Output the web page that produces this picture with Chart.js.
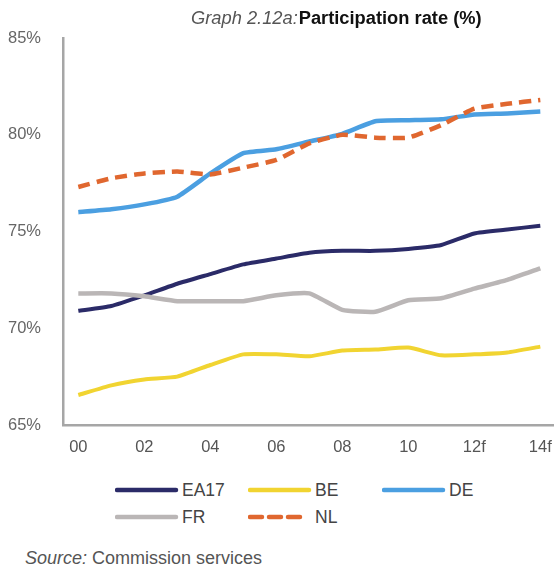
<!DOCTYPE html>
<html>
<head>
<meta charset="utf-8">
<script src="https://cdn.jsdelivr.net/npm/chart.js@4.4.1/dist/chart.umd.min.js"></script>
<style>
  html, body { margin: 0; padding: 0; background: #fff; }
  #wrap { position: relative; width: 554px; height: 570px; overflow: hidden; background: #fff;
          font-family: "Liberation Sans", Arial, sans-serif; }
  #c { position: absolute; left: 0; top: 0; }
  #title { position: absolute; left: 191px; top: 7px; white-space: nowrap; font-size: 18.3px; line-height: 22px; color: #111; }
  #title .it { font-style: italic; color: #555; }
  #title .b { font-weight: bold; margin-left: 1px; }
  .leg { position: absolute; height: 22px; white-space: nowrap; font-size: 17.5px; line-height: 22px; color: #444; }
  .leg svg { position: absolute; left: 0; top: 0; }
  .leg span { position: absolute; top: 0; }
  #source { position: absolute; left: 25px; top: 547px; font-size: 18px; line-height: 22px; color: #555; white-space: nowrap; }
  #source i { font-style: italic; }
</style>
</head>
<body>
<div id="wrap">
  <canvas id="c" width="554" height="460"></canvas>
  <div id="title"><span class="it">Graph 2.12a:</span><span class="b">Participation rate (%)</span></div>
  <div id="legend"></div>
  <div id="source"><i>Source:</i> Commission services</div>
</div>
<script>
// ---- data ----
const categories = ['00','01','02','03','04','05','06','07','08','09','10','11','12f','13f','14f'];
const tickLabels = ['00','02','04','06','08','10','12f','14f'];
const seriesNames = ['EA17','BE','DE','FR','NL'];
const ea17 = [70.9, 71.15, 71.7, 72.3, 72.8, 73.3, 73.6, 73.9, 74.0, 74.0, 74.1, 74.3, 74.9, 75.1, 75.3];
const be   = [66.55, 67.05, 67.35, 67.5, 68.1, 68.65, 68.65, 68.55, 68.85, 68.9, 69.0, 68.6, 68.65, 68.75, 69.05];
const de   = [76.0, 76.15, 76.4, 76.8, 78.0, 79.05, 79.25, 79.65, 80.05, 80.7, 80.75, 80.8, 81.05, 81.1, 81.2];
const fr   = [71.8, 71.8, 71.65, 71.4, 71.4, 71.4, 71.7, 71.8, 70.95, 70.85, 71.45, 71.55, 72.05, 72.5, 73.1];
const nl   = [77.3, 77.75, 78.0, 78.1, 77.95, 78.3, 78.7, 79.55, 80.0, 79.85, 79.85, 80.5, 81.35, 81.6, 81.8];
const yTicks = [65, 70, 75, 80, 85];

// ---- styles ----
const styles = {
  EA17: { color: '#2b2b68', width: 4,   dash: [],      order: 2 },
  BE:   { color: '#f1d431', width: 4,   dash: [],      order: 4 },
  DE:   { color: '#4b9fe1', width: 4.5, dash: [],      order: 3 },
  FR:   { color: '#bab6b6', width: 4.5, dash: [],      order: 1 },
  NL:   { color: '#e0672f', width: 4.5, dash: [12, 7], order: 0 }
};
const seriesValues = [ea17, be, de, fr, nl];

const datasets = seriesNames.map((name, k) => ({
  label: name,
  data: seriesValues[k].map((v, i) => ({ x: i, y: v })),
  borderColor: styles[name].color,
  backgroundColor: styles[name].color,
  borderWidth: styles[name].width,
  borderDash: styles[name].dash,
  borderCapStyle: 'butt',
  borderJoinStyle: 'round',
  pointRadius: 0,
  tension: 0.15,
  fill: false,
  order: styles[name].order
}));

new Chart(document.getElementById('c'), {
  type: 'line',
  data: { datasets },
  options: {
    responsive: false,
    animation: false,
    devicePixelRatio: 1,
    layout: { padding: { top: 38, left: 0, right: 0, bottom: 0 } },
    plugins: { legend: { display: false }, tooltip: { enabled: false }, title: { display: false } },
    scales: {
      x: {
        type: 'linear',
        min: -0.464,
        max: 14.415,
        afterFit: (s) => { s.height = 35; s.paddingRight = 0; s.paddingLeft = 0; },
        afterBuildTicks: (s) => {
          s.ticks = tickLabels.map(l => ({ value: categories.indexOf(l) }));
        },
        ticks: {
          autoSkip: false,
          maxRotation: 0,
          padding: 13,
          color: '#555',
          font: { family: 'Liberation Sans', size: 16.5 },
          callback: (v) => categories[v]
        },
        grid: { display: false, drawTicks: false },
        border: { display: true, color: '#a6a6a6', width: 2.5 }
      },
      y: {
        min: 65,
        max: 85,
        afterFit: (s) => { s.width = 63; s.paddingTop = 0; s.paddingBottom = 0; },
        afterBuildTicks: (s) => { s.ticks = yTicks.map(v => ({ value: v })); },
        ticks: {
          padding: 22,
          color: '#666',
          font: { family: 'Liberation Sans', size: 16.5 },
          callback: (v) => v + '%'
        },
        grid: { display: false, drawTicks: false },
        border: { display: true, color: '#a6a6a6', width: 2.5 }
      }
    }
  }
});

// ---- HTML legend built from the datasets ----
const legendPos = {
  EA17: { left: 115, top: 479 },
  BE:   { left: 248, top: 479 },
  DE:   { left: 382, top: 479 },
  FR:   { left: 115, top: 506 },
  NL:   { left: 248, top: 506 }
};
const legendEl = document.getElementById('legend');
seriesNames.forEach(name => {
  const st = styles[name];
  const p = legendPos[name];
  const div = document.createElement('div');
  div.className = 'leg';
  div.style.left = p.left + 'px';
  div.style.top = p.top + 'px';
  div.style.width = '120px';
  const lineLen = name === 'NL' ? 54 : 61;
  const dash = st.dash.length ? 'stroke-dasharray="12 7"' : '';
  div.innerHTML =
    '<svg width="64" height="22"><line x1="2" y1="11" x2="' + (lineLen) + '" y2="11" stroke="' + st.color +
    '" stroke-width="4.5" stroke-linecap="round" ' + dash + '/></svg>' +
    '<span style="left:67px">' + name + '</span>';
  legendEl.appendChild(div);
});
</script>
</body>
</html>
